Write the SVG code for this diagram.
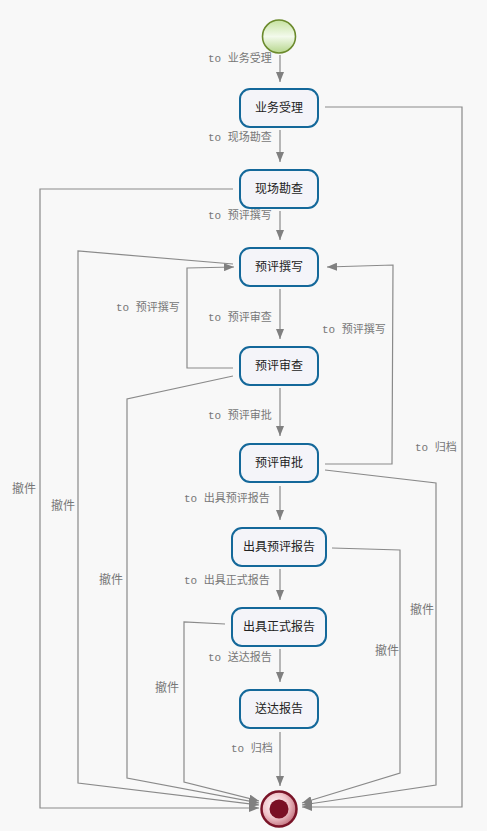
<svg xmlns="http://www.w3.org/2000/svg" width="487" height="831" viewBox="0 0 487 831">
  <defs>
    <linearGradient id="startFill" x1="0" y1="0" x2="0" y2="1">
      <stop offset="0" stop-color="#c6e2a0"/>
      <stop offset="0.5" stop-color="#f3faec"/>
      <stop offset="1" stop-color="#b6d68c"/>
    </linearGradient>
    <radialGradient id="endFill" cx="0.4" cy="0.4" r="0.6">
      <stop offset="0" stop-color="#ffffff"/>
      <stop offset="0.6" stop-color="#f0c4ca"/>
      <stop offset="1" stop-color="#c77a86"/>
    </radialGradient>
    <marker id="arrow" viewBox="0 0 10 8" refX="10" refY="4" markerWidth="10" markerHeight="8" markerUnits="userSpaceOnUse" orient="auto">
      <path d="M0,0 L10,4 L0,8 Z" fill="#808080"/>
    </marker>
    <style>
      .task rect { fill: #f4f4f9; stroke: #14689a; stroke-width: 2; }
      .task text { font-family: "Noto Sans CJK SC", "Noto Sans", sans-serif; font-size: 12px; fill: #222; text-anchor: middle; }
      .edge { fill: none; stroke: #8a8a8a; stroke-width: 1.2; marker-end: url(#arrow); }
      .lbl { font-family: "Liberation Mono", "Noto Sans CJK SC", monospace; font-size: 11px; fill: #777; }
      .lbl2 { font-family: "Noto Sans CJK SC", sans-serif; font-size: 12px; fill: #777; }
    </style>
  </defs>

  <rect width="487" height="831" fill="#f8f8f8"/>

  <g id="connectors">
    <path class="edge" d="M280,55 L280,82"/>
    <path class="edge" d="M280,130 L280,162"/>
    <path class="edge" d="M325,107 L462,107 L462,807 L302,807"/>
    <path class="edge" d="M233,189 L40,189 L40,808 L259,808"/>
    <path class="edge" d="M280,211 L280,240"/>
    <path class="edge" d="M233,264 L78,251 L78,783 L259,805"/>
    <path class="edge" d="M280,289 L280,339"/>
    <path class="edge" d="M233,368 L187,368 L187,268 L234,267"/>
    <path class="edge" d="M233,376 L127,399 L127,778 L259,803"/>
    <path class="edge" d="M280,388 L280,436"/>
    <path class="edge" d="M325,464 L392,464 L393,265 L327,267"/>
    <path class="edge" d="M325,470 L436,483 L436,785 L302,805"/>
    <path class="edge" d="M280,486 L280,520"/>
    <path class="edge" d="M332,548 L400,550 L400,773 L302,803"/>
    <path class="edge" d="M280,569 L280,600"/>
    <path class="edge" d="M225,624 L184,622 L184,782 L259,801"/>
    <path class="edge" d="M280,649 L280,682"/>
    <path class="edge" d="M280,732 L280,786"/>
  </g>

  <g id="labels">
    <text class="lbl" x="208" y="62">to 业务受理</text>
    <text class="lbl" x="208" y="141">to 现场勘查</text>
    <text class="lbl" x="208" y="219">to 预评撰写</text>
    <text class="lbl" x="116" y="311">to 预评撰写</text>
    <text class="lbl" x="208" y="321">to 预评审查</text>
    <text class="lbl" x="322" y="333">to 预评撰写</text>
    <text class="lbl" x="208" y="419">to 预评审批</text>
    <text class="lbl" x="415" y="451">to 归档</text>
    <text class="lbl" x="184" y="502">to 出具预评报告</text>
    <text class="lbl" x="184" y="584">to 出具正式报告</text>
    <text class="lbl" x="208" y="661">to 送达报告</text>
    <text class="lbl" x="231" y="752">to 归档</text>
    <text class="lbl2" x="12" y="493">撤件</text>
    <text class="lbl2" x="51" y="510">撤件</text>
    <text class="lbl2" x="99" y="584">撤件</text>
    <text class="lbl2" x="155" y="692">撤件</text>
    <text class="lbl2" x="410" y="614">撤件</text>
    <text class="lbl2" x="375" y="655">撤件</text>
  </g>

  <g id="start">
    <circle cx="279" cy="36.5" r="16.5" fill="url(#startFill)" stroke="#6b8a2c" stroke-width="1.6"/>
  </g>

  <g id="task-accept" class="task">
    <rect x="240" y="89" width="78" height="38" rx="10"/>
    <text x="279" y="112">业务受理</text>
  </g>
  <g id="task-survey" class="task">
    <rect x="240" y="170" width="78" height="38" rx="10"/>
    <text x="279" y="193">现场勘查</text>
  </g>
  <g id="task-draft" class="task">
    <rect x="240" y="248" width="78" height="38" rx="10"/>
    <text x="279" y="271">预评撰写</text>
  </g>
  <g id="task-review" class="task">
    <rect x="240" y="347" width="78" height="38" rx="10"/>
    <text x="279" y="370">预评审查</text>
  </g>
  <g id="task-approve" class="task">
    <rect x="240" y="444" width="78" height="38" rx="10"/>
    <text x="279" y="467">预评审批</text>
  </g>
  <g id="task-prereport" class="task">
    <rect x="232" y="528" width="94" height="38" rx="10"/>
    <text x="279" y="551">出具预评报告</text>
  </g>
  <g id="task-formal" class="task">
    <rect x="232" y="608" width="94" height="38" rx="10"/>
    <text x="279" y="631">出具正式报告</text>
  </g>
  <g id="task-deliver" class="task">
    <rect x="240" y="690" width="78" height="38" rx="10"/>
    <text x="279" y="713">送达报告</text>
  </g>

  <g id="end">
    <circle cx="279" cy="809" r="17.5" fill="url(#endFill)" stroke="#7a1428" stroke-width="2.5"/>
    <circle cx="279" cy="809" r="9.5" fill="#7a0f24"/>
  </g>
</svg>
